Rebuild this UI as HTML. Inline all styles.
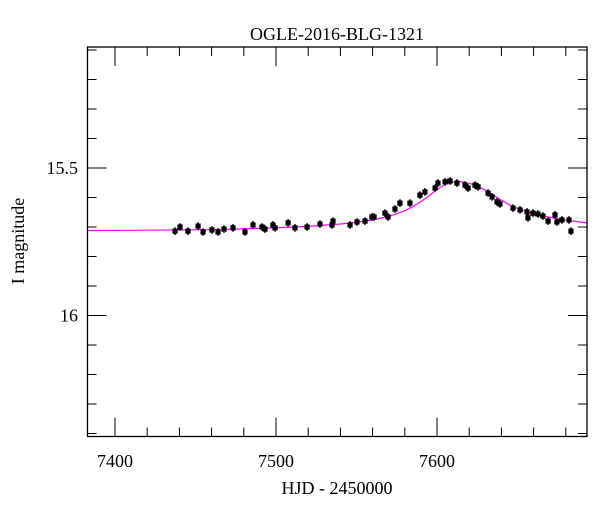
<!DOCTYPE html>
<html><head><meta charset="utf-8"><style>
html,body{margin:0;padding:0;background:#fff;}
svg text{font-family:"Liberation Serif",serif;fill:#000;}
</style></head><body>
<svg id="chart" width="600" height="512" xmlns="http://www.w3.org/2000/svg">
<text x="337" y="40" font-size="18" text-anchor="middle">OGLE-2016-BLG-1321</text>
<text x="337" y="494" font-size="18" text-anchor="middle">HJD - 2450000</text>
<text transform="translate(24,241) rotate(-90)" font-size="18" text-anchor="middle">I magnitude</text>
<g id="ticks"></g>
<g id="model"></g>
<g id="points"></g>
<rect x="87.5" y="47" width="499.5" height="389.5" fill="none" stroke="#000" stroke-width="1.3"/>
</svg>
<script>
const xTicks=[7400,7500,7600];
const yTicks=[15.5,16];
const modelT=[7383,7420,7460,7500,7520,7540,7550,7560,7570,7580,7585,7590,7595,7600,7605,7611,7616,7620,7625,7630,7635,7640,7645,7650,7660,7670,7680,7693];
const modelM=[15.712,15.711,15.709,15.703,15.698,15.690,15.684,15.676,15.664,15.645,15.631,15.614,15.594,15.573,15.556,15.546,15.547,15.552,15.561,15.575,15.592,15.609,15.625,15.637,15.655,15.667,15.677,15.686];
const obsT=[7437.3,7440.4,7445.3,7451.6,7454.7,7460.2,7464.0,7467.7,7473.3,7480.7,7485.7,7491.3,7493.2,7498.1,7499.4,7507.5,7511.8,7519.3,7527.3,7534.8,7535.4,7546.0,7550.3,7555.3,7559.6,7560.9,7567.7,7569.6,7573.9,7577.0,7583.2,7589.4,7592.5,7598.8,7600.6,7605.0,7608.1,7612.4,7617.4,7619.3,7623.6,7625.5,7631.7,7634.2,7637.3,7639.1,7647.2,7651.6,7655.9,7656.5,7659.6,7662.7,7665.8,7669.0,7673.3,7674.5,7677.6,7682.0,7683.2];
const obsM=[15.714,15.700,15.714,15.697,15.717,15.710,15.717,15.707,15.703,15.717,15.693,15.700,15.707,15.693,15.703,15.686,15.703,15.700,15.690,15.693,15.680,15.693,15.683,15.680,15.666,15.666,15.653,15.666,15.639,15.619,15.619,15.592,15.581,15.568,15.551,15.547,15.544,15.551,15.558,15.568,15.558,15.564,15.585,15.598,15.615,15.622,15.636,15.642,15.649,15.669,15.653,15.656,15.663,15.680,15.659,15.683,15.676,15.676,15.714];
const X0=87.5,X1=587,Y0=47,Y1=436.5;
const xs=t=>115+(t-7400)*1.61;
const ys=m=>168+(m-15.5)*295;
const NS='http://www.w3.org/2000/svg';
function mk(tag,attrs,parent){const e=document.createElementNS(NS,tag);for(const k in attrs)e.setAttribute(k,attrs[k]);parent.appendChild(e);return e;}
const tg=document.getElementById('ticks');
for(let t=7380;t<=7700;t+=20){const x=xs(t);if(x<X0||x>X1)continue;const maj=t%100===0;const L=maj?19:9;
 const a=mk('line',{x1:x,x2:x,y1:Y1,y2:Y1-L,stroke:'#000','stroke-width':1},tg);
 
 
 const b=mk('line',{x1:x,x2:x,y1:Y0,y2:Y0+L,stroke:'#000','stroke-width':1},tg);
 
 }
xTicks.forEach(t=>{const e=mk('text',{x:xs(t),y:467,'font-size':18,'text-anchor':'middle'},tg);e.textContent=t;
 
 });
for(let i=11;i<=16.4*10+0.01;i++){const m=i/10;const y=ys(m);if(y<Y0||y>Y1)continue;const maj=Math.abs(m*2-Math.round(m*2))<1e-6;const L=maj?19:9;
 const a=mk('line',{x1:X0,x2:X0+L,y1:y,y2:y,stroke:'#000','stroke-width':1},tg);
 
 
 const b=mk('line',{x1:X1,x2:X1-L,y1:y,y2:y,stroke:'#000','stroke-width':1},tg);
 
 }
yTicks.forEach(m=>{const e=mk('text',{x:78,y:ys(m)+6,'font-size':18,'text-anchor':'end'},tg);e.textContent=String(m);
 
 });
const mg=document.getElementById('model');
let d='';modelT.forEach((t,i)=>{d+=(i?'L':'M')+xs(t).toFixed(1)+','+ys(modelM[i]).toFixed(1);});
const ml=mk('path',{d:d,fill:'none',stroke:'#ff00ff','stroke-width':1.2,'stroke-linejoin':'round'},mg);


const pg=document.getElementById('points');
obsT.forEach((t,i)=>{const cx=xs(t),cy=ys(obsM[i]);
 const c=mk('rect',{x:cx-2.6,y:cy-2.6,width:5.2,height:5.2,fill:'#000'},pg);
 
 
 const eb=mk('line',{x1:cx,x2:cx,y1:cy-3.8,y2:cy+3.8,stroke:'#000','stroke-width':1.5},pg);
 
 });
</script>
</body></html>
